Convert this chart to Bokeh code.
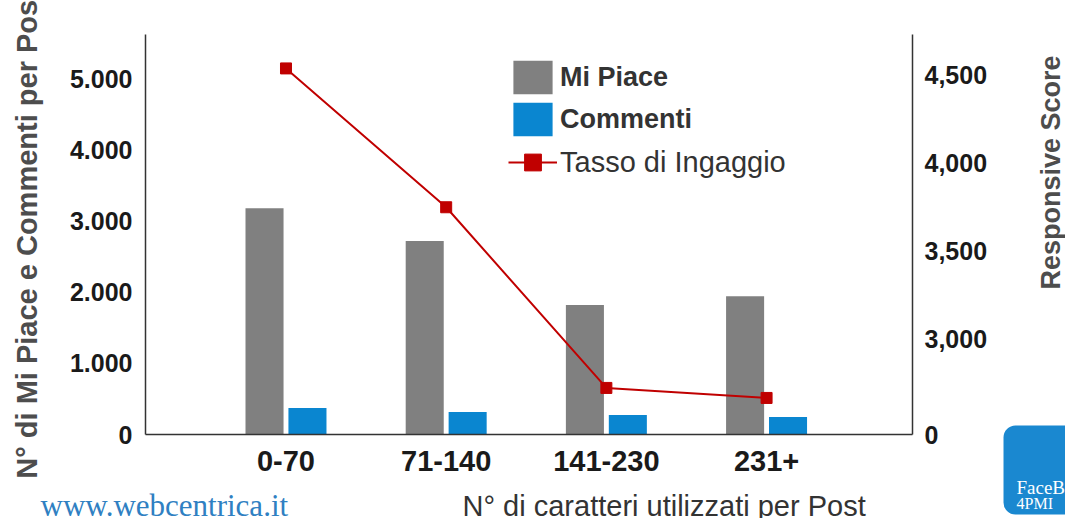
from bokeh.plotting import figure
from bokeh.layouts import row, column
from bokeh.models import (Range1d, LinearAxis, FixedTicker, NumeralTickFormatter,
                          ColumnDataSource, Legend, LegendItem, Label)
from bokeh.transform import dodge
from bokeh.embed import file_html
from bokeh.resources import INLINE
import math

# Post length buckets and average engagement per bucket
categories = ["0-70", "71-140", "141-230", "231+"]
mi_piace = [3180, 2720, 1820, 1945]
commenti = [372, 316, 274, 246]
tasso_ingaggio = [4540, 3750, 2722, 2665]

left_ticks = [0, 1000, 2000, 3000, 4000, 5000]
left_tick_labels = ["0", "1.000", "2.000", "3.000", "4.000", "5.000"]
right_ticks = [2457, 3000, 3500, 4000, 4500]
right_tick_labels = {2457: "0"}

GRAY = "#808080"
BLUE = "#0a86d0"
RED = "#c00000"
FONT = "Liberation Sans"

src = ColumnDataSource(dict(
    x=list(range(len(categories))),
    mi_piace=mi_piace,
    commenti=commenti,
    tasso=tasso_ingaggio,
))

# ---- main chart -------------------------------------------------------------
p = figure(width=1000, height=485, output_backend="svg", toolbar_location=None,
           x_range=Range1d(-0.877, 3.911), y_range=Range1d(0, 5625),
           min_border_left=145, min_border_right=88, min_border_top=34,
           min_border_bottom=51, outline_line_color=None)
p.extra_y_ranges = {"score": Range1d(2457, 4733)}
p.xgrid.visible = False
p.ygrid.visible = False

bw = 0.2375
r_like = p.vbar(x=dodge("x", -0.134), top="mi_piace", width=bw, source=src,
                fill_color=GRAY, line_color=None)
r_comm = p.vbar(x=dodge("x", 0.134), top="commenti", width=bw, source=src,
                fill_color=BLUE, line_color=None)
r_line = p.line(x="x", y="tasso", source=src, y_range_name="score",
                line_color=RED, line_width=2)
r_pts = p.scatter(x="x", y="tasso", source=src, y_range_name="score",
                  marker="square", size=11, fill_color=RED, line_color=RED)


def style_axis(ax, size):
    ax.axis_line_color = "#333333"
    ax.axis_line_width = 1.5
    ax.major_tick_line_color = None
    ax.minor_tick_line_color = None
    ax.major_label_text_font = FONT
    ax.major_label_text_font_style = "bold"
    ax.major_label_text_font_size = size
    ax.major_label_text_color = "#1a1a1a"


xa = p.xaxis[0]
style_axis(xa, "29px")
xa.ticker = FixedTicker(ticks=list(range(len(categories))))
xa.major_label_overrides = {i: c for i, c in enumerate(categories)}
xa.major_label_standoff = 10

ya = p.yaxis[0]
style_axis(ya, "25px")
ya.ticker = FixedTicker(ticks=left_ticks)
ya.major_label_overrides = dict(zip(left_ticks, left_tick_labels))
ya.major_label_standoff = 7
ya.axis_label = "N° di Mi Piace e Commenti per Post"
ya.axis_label_text_font = FONT
ya.axis_label_text_font_style = "bold"
ya.axis_label_text_font_size = "29px"
ya.axis_label_text_color = "#4d4d4d"
ya.axis_label_standoff = 24

yr = LinearAxis(y_range_name="score")
style_axis(yr, "25px")
yr.ticker = FixedTicker(ticks=right_ticks)
yr.formatter = NumeralTickFormatter(format="0,0")
yr.major_label_overrides = right_tick_labels
yr.major_label_standoff = 6
p.add_layout(yr, "right")


def make_legend(items, loc, weight, size):
    lg = Legend(items=items, location=loc, orientation="vertical")
    lg.glyph_width = 49
    lg.glyph_height = 42
    lg.spacing = 0
    lg.padding = 0
    lg.margin = 0
    lg.label_standoff = 3
    lg.border_line_color = None
    lg.background_fill_alpha = 0
    lg.label_text_font = FONT
    lg.label_text_font_style = weight
    lg.label_text_font_size = size
    lg.label_text_color = "#333333"
    return lg


p.add_layout(make_legend([
    LegendItem(label="Mi Piace", renderers=[r_like]),
    LegendItem(label="Commenti", renderers=[r_comm]),
], (363, 294), "bold", "27px"))
p.add_layout(make_legend([
    LegendItem(label="Tasso di Ingaggio", renderers=[r_line, r_pts]),
], (363, 251), "normal", "29px"))


def blank(w, h, xr, yr_):
    f = figure(width=w, height=h, output_backend="svg", toolbar_location=None,
               x_range=Range1d(*xr), y_range=Range1d(*yr_),
               x_axis_type=None, y_axis_type=None, min_border=0,
               outline_line_color=None)
    f.frame_align = False
    f.xgrid.visible = False
    f.ygrid.visible = False
    return f


# ---- footer strip: site and x-axis title ------------------------------------
foot = blank(1000, 33, (0, 1000), (0, 33))
foot.add_layout(Label(x=40, y=13, x_units="screen", y_units="screen",
                      text="www.webcentrica.it", text_align="left",
                      text_baseline="middle", text_font="Liberation Serif",
                      text_font_size="31px", text_color="#2f80c2"))
foot.add_layout(Label(x=462, y=13, x_units="screen", y_units="screen",
                      text="N° di caratteri utilizzati per Post", text_align="left",
                      text_baseline="middle", text_font=FONT,
                      text_font_size="29px", text_color="#333333"))

# ---- right strip: secondary axis title and badge ----------------------------
side = blank(65, 518, (0, 65), (0, 518))
side.add_layout(Label(x=50, y=346, x_units="screen", y_units="screen",
                      text="Responsive Score", angle=math.pi / 2,
                      text_align="center", text_baseline="middle",
                      text_font=FONT, text_font_style="bold",
                      text_font_size="27px", text_color="#4d4d4d"))
side.quad(left=[3], right=[90], top=[93], bottom=[4],
          fill_color="#1a88d0", line_color=None, border_radius=12)
side.add_layout(Label(x=16, y=31, x_units="screen", y_units="screen",
                      text="FaceBook", text_align="left", text_baseline="middle",
                      text_font="Liberation Serif", text_font_size="19px",
                      text_color="white"))
side.add_layout(Label(x=16, y=15, x_units="screen", y_units="screen",
                      text="4PMI", text_align="left", text_baseline="middle",
                      text_font="Liberation Serif", text_font_size="16px",
                      text_color="white"))

layout = row(column(p, foot), side)
open("out.html", "w").write(file_html(layout, INLINE))
